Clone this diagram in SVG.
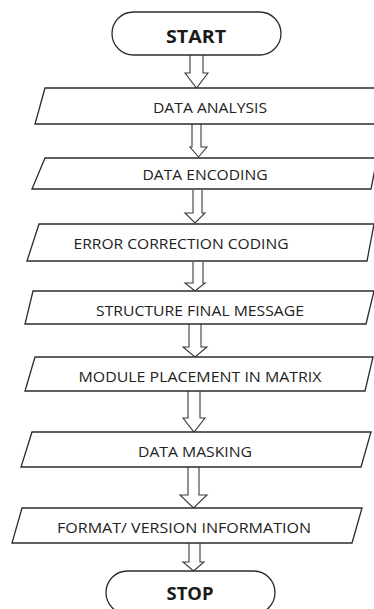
<svg xmlns="http://www.w3.org/2000/svg" width="374" height="609" viewBox="0 0 374 609">
  <style>
    .shape { fill: #ffffff; stroke: #2b2b2b; stroke-width: 1.3; }
    .arrow { fill: #ffffff; stroke: #3a3a3a; stroke-width: 1.1; stroke-linejoin: miter; }
    .label { font-family: "Open Sans", "Liberation Sans", sans-serif; font-size: 14px; fill: #222222; text-anchor: middle; }
    .term { font-family: "Open Sans", "Liberation Sans", sans-serif; font-size: 17px; font-weight: bold; fill: #1a1a1a; text-anchor: middle; }
  </style>
  <rect width="374" height="609" fill="#ffffff"/>

  <!-- block arrows between steps -->
  <g id="connectors">
    <path class="arrow" d="M190,55 V73 H185 L196.5,88 L208,73 H203 V55"/>
    <path class="arrow" d="M192,124 V147 H190 L198.5,157 L207,147 H201 V124"/>
    <path class="arrow" d="M193,190 V213 H185 L195,223 L205,213 H202 V190"/>
    <path class="arrow" d="M193,262 V283 H185 L195,291 L205,283 H203 V262"/>
    <path class="arrow" d="M189,324 V347 H183 L195,357 L207,347 H201 V324"/>
    <path class="arrow" d="M188,391 V418 H183 L194,432 L205,418 H200 V391"/>
    <path class="arrow" d="M188,467 V495 H180 L193.5,508 L207,495 H199 V467"/>
    <path class="arrow" d="M189,543 V562 H183 L193.5,571 L204,562 H200 V543"/>
  </g>

  <g id="start">
    <rect class="shape" x="112" y="12" width="169" height="43" rx="21.5" ry="21.5"/>
    <text class="term" x="196" y="43" textLength="60" lengthAdjust="spacingAndGlyphs">START</text>
  </g>

  <g id="data-analysis">
    <polygon class="shape" points="45,88 382,88 376,124 35,124"/>
    <text class="label" x="210" y="113" textLength="114" lengthAdjust="spacingAndGlyphs">DATA ANALYSIS</text>
  </g>

  <g id="data-encoding">
    <polygon class="shape" points="45,158 377,158 371,189 32,189"/>
    <text class="label" x="205" y="180" textLength="125" lengthAdjust="spacingAndGlyphs">DATA ENCODING</text>
  </g>

  <g id="error-correction">
    <polygon class="shape" points="39,224 374,224 367,261 27,261"/>
    <text class="label" x="181" y="249" textLength="215" lengthAdjust="spacingAndGlyphs">ERROR CORRECTION CODING</text>
  </g>

  <g id="structure-message">
    <polygon class="shape" points="33,291 374,291 366,324 25,324"/>
    <text class="label" x="200" y="316" textLength="208" lengthAdjust="spacingAndGlyphs">STRUCTURE FINAL MESSAGE</text>
  </g>

  <g id="module-placement">
    <polygon class="shape" points="35,357 373,357 365,391 25,391"/>
    <text class="label" x="200" y="382" textLength="243" lengthAdjust="spacingAndGlyphs">MODULE PLACEMENT IN MATRIX</text>
  </g>

  <g id="data-masking">
    <polygon class="shape" points="32,432 371,432 361,467 21,467"/>
    <text class="label" x="195" y="457" textLength="114" lengthAdjust="spacingAndGlyphs">DATA MASKING</text>
  </g>

  <g id="format-version">
    <polygon class="shape" points="22,508 362,508 352,543 12,543"/>
    <text class="label" x="184" y="533" textLength="254" lengthAdjust="spacingAndGlyphs">FORMAT/ VERSION INFORMATION</text>
  </g>

  <g id="stop">
    <rect class="shape" x="106" y="571" width="169" height="43" rx="21.5" ry="21.5"/>
    <text class="term" x="190" y="600" textLength="47" lengthAdjust="spacingAndGlyphs">STOP</text>
  </g>
</svg>
